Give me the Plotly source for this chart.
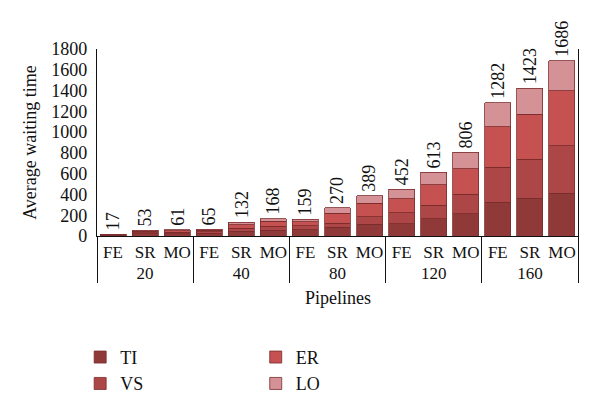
import plotly.graph_objects as go

pipelines = ["20", "40", "80", "120", "160"]
methods = ["FE", "SR", "MO"]
totals = [17, 53, 61, 65, 132, 168, 159, 270, 389, 452, 613, 806, 1282, 1423, 1686]
ti = [6, 20, 22, 25, 45, 55, 60, 84, 112, 119, 164, 212, 324, 363, 411]
vs = [4, 12, 14, 15, 30, 40, 40, 38, 71, 106, 131, 192, 337, 375, 456]
er = [4, 13, 15, 15, 35, 45, 37, 99, 131, 134, 196, 241, 391, 434, 532]
lo = [t - a - b - c for t, a, b, c in zip(totals, ti, vs, er)]

series = [("TI", ti, "#8f3939", "legend"),
          ("VS", vs, "#ad4646", "legend"),
          ("ER", er, "#c55151", "legend2"),
          ("LO", lo, "#d49296", "legend2")]

xg = [p for p in pipelines for _ in methods]
xc = [m for _ in pipelines for m in methods]

FONT = "Liberation Serif"
TXT = "#111"
fig = go.Figure()
for name, vals, col, lg in series:
    fig.add_trace(go.Bar(
        x=[xg, xc], y=vals, name=name, legend=lg,
        marker=dict(color=col, line=dict(color="#7a2c2c", width=0.8)),
    ))

for i, t in enumerate(totals):
    fig.add_annotation(x=i, y=t, text=str(t), textangle=-90, showarrow=False,
                       yanchor="bottom", xanchor="center", yshift=2,
                       font=dict(family=FONT, size=18, color=TXT))

fig.add_annotation(text="Pipelines", xref="paper", yref="paper", x=0.5, y=-0.332,
                   xanchor="center", yanchor="middle",
                   showarrow=False, font=dict(family=FONT, size=18, color=TXT))

leg = dict(xanchor="left", yanchor="top", font=dict(family=FONT, size=18, color=TXT),
           tracegroupgap=0, itemwidth=30, traceorder="normal", bgcolor="rgba(0,0,0,0)")
fig.update_layout(
    width=600, height=415,
    margin=dict(l=89, r=30, t=41, b=187, autoexpand=False),
    barmode="stack", bargap=0.19,
    plot_bgcolor="white", paper_bgcolor="white",
    font=dict(family=FONT, size=17, color=TXT),
    legend=dict(x=-0.035, y=-0.55, **leg),
    legend2=dict(x=0.33, y=-0.55, **leg),
)
fig.update_xaxes(type="multicategory", showline=True, linecolor=TXT, linewidth=1.2,
                 ticks="", showgrid=False, dividercolor=TXT, dividerwidth=1.2, tickangle=0,
                 tickfont=dict(family=FONT, size=17, color=TXT), automargin=False)
fig.update_yaxes(range=[0, 1800], dtick=200, showline=True, mirror=True, linecolor=TXT,
                 linewidth=1.2, ticks="", showgrid=False, zeroline=False, ticklabelstandoff=5,
                 tickfont=dict(family=FONT, size=18, color=TXT),
                 title=dict(text="Average waiting time", font=dict(family=FONT, size=18, color=TXT),
                            standoff=9),
                 automargin=False)

fig.write_html("out.html")
